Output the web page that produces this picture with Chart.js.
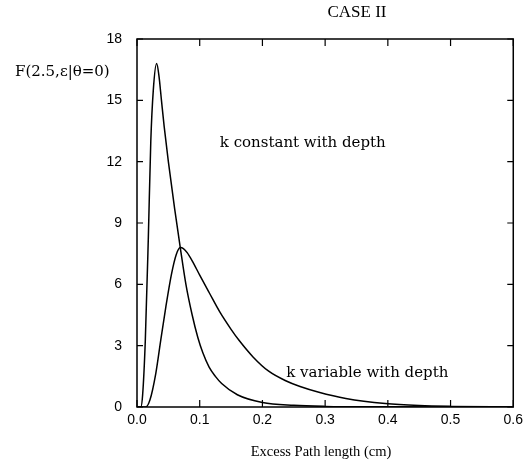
<!DOCTYPE html>
<html>
<head>
<meta charset="utf-8">
<script src="https://cdn.jsdelivr.net/npm/chart.js@4/dist/chart.umd.min.js"></script>
<style>
  html, body { margin: 0; padding: 0; background: #fff; }
  #wrap { width: 528px; height: 461px; }
</style>
</head>
<body>
<div id="wrap"><canvas id="chart" width="528" height="461"></canvas></div>
<script>
// k constant with depth
const xConstant = [0, 0.006, 0.009, 0.0133, 0.018, 0.022, 0.026, 0.0313, 0.035, 0.039, 0.0434, 0.05, 0.06, 0.069, 0.078, 0.088, 0.097, 0.105, 0.115, 0.125, 0.135, 0.16, 0.2, 0.25, 0.3, 0.4, 0.5, 0.6];
const yConstant = [0, 0, 0.6, 3.3, 8.2, 13.0, 15.5, 16.8, 16.2, 15.0, 13.7, 12.0, 9.7, 7.8, 6.0, 4.5, 3.4, 2.65, 1.95, 1.5, 1.15, 0.6, 0.22, 0.08, 0.03, 0.01, 0, 0];

// k variable with depth
const xVariable = [0, 0.014, 0.0206, 0.03, 0.038, 0.046, 0.055, 0.0625, 0.069, 0.074, 0.08, 0.088, 0.1, 0.115, 0.132, 0.15, 0.163, 0.185, 0.21, 0.238, 0.26, 0.29, 0.333, 0.396, 0.45, 0.5, 0.6];
const yVariable = [0, 0, 0.34, 1.65, 3.3, 4.9, 6.5, 7.45, 7.8, 7.75, 7.55, 7.15, 6.45, 5.6, 4.65, 3.8, 3.25, 2.45, 1.75, 1.27, 1.0, 0.72, 0.42, 0.17, 0.07, 0.03, 0];

const xTicks = [0, 0.1, 0.2, 0.3, 0.4, 0.5, 0.6];
const yTicks = [0, 3, 6, 9, 12, 15, 18];

const toPoints = (xs, ys) => xs.map((x, i) => ({ x: x, y: ys[i] }));

const serif = "'DejaVu Serif', serif";

// frame, inward ticks and free text
const decorPlugin = {
  id: "decor",
  afterDraw(chart) {
    const ctx = chart.ctx;
    const a = chart.chartArea;
    const xs = chart.scales.x;
    const ys = chart.scales.y;
    ctx.save();
    ctx.strokeStyle = "#000";
    ctx.lineWidth = 1.5;
    ctx.strokeRect(a.left, a.top, a.right - a.left, a.bottom - a.top);

    ctx.lineWidth = 1.2;
    ctx.beginPath();
    xTicks.forEach((v) => {
      const px = xs.getPixelForValue(v);
      ctx.moveTo(px, a.bottom);
      ctx.lineTo(px, a.bottom - 7);
      ctx.moveTo(px, a.top);
      ctx.lineTo(px, a.top + 7);
    });
    yTicks.forEach((v) => {
      const py = ys.getPixelForValue(v);
      ctx.moveTo(a.left, py);
      ctx.lineTo(a.left + 6, py);
      ctx.moveTo(a.right, py);
      ctx.lineTo(a.right - 6, py);
    });
    ctx.stroke();

    ctx.fillStyle = "#000";
    ctx.textBaseline = "middle";

    ctx.font = "15px " + serif;
    ctx.textAlign = "left";
    ctx.fillText("k constant with depth", xs.getPixelForValue(0.132), ys.getPixelForValue(12.9));
    ctx.fillText("k variable with depth", xs.getPixelForValue(0.238), ys.getPixelForValue(1.66));

    ctx.font = "15px " + serif;
    ctx.fillText("F(2.5,\u03b5|\u03b8=0)", 15, 72);

    ctx.textAlign = "center";
    ctx.font = "14.5px 'Liberation Serif', serif";
    ctx.fillText("Excess Path length (cm)", 321, 452);

    ctx.font = "17px 'Liberation Serif', serif";
    ctx.fillText("CASE II", 357, 13);
    ctx.restore();
  }
};

new Chart(document.getElementById("chart"), {
  type: "line",
  data: {
    datasets: [
      {
        label: "k constant with depth",
        data: toPoints(xConstant, yConstant),
        borderColor: "#000",
        borderWidth: 1.5,
        pointRadius: 0,
        fill: false,
        cubicInterpolationMode: "monotone"
      },
      {
        label: "k variable with depth",
        data: toPoints(xVariable, yVariable),
        borderColor: "#000",
        borderWidth: 1.5,
        pointRadius: 0,
        fill: false,
        cubicInterpolationMode: "monotone"
      }
    ]
  },
  options: {
    responsive: false,
    animation: false,
    layout: { padding: { top: 39, right: 13, left: 0, bottom: 0 } },
    plugins: {
      legend: { display: false },
      tooltip: { enabled: false }
    },
    scales: {
      x: {
        type: "linear",
        min: 0,
        max: 0.6,
        afterFit: (scale) => { scale.height = 54; },
        afterBuildTicks: (scale) => { scale.ticks = xTicks.map((v) => ({ value: v })); },
        grid: { display: false, drawTicks: false },
        border: { display: false },
        ticks: {
          padding: 5,
          color: "#000",
          font: { family: "'Liberation Sans', Arial, sans-serif", size: 14 },
          maxRotation: 0,
          callback: (v) => Number(v).toFixed(1)
        }
      },
      y: {
        type: "linear",
        min: 0,
        max: 18,
        afterFit: (scale) => { scale.width = 137; },
        afterBuildTicks: (scale) => { scale.ticks = yTicks.map((v) => ({ value: v })); },
        grid: { display: false, drawTicks: false },
        border: { display: false },
        ticks: {
          padding: 15,
          color: "#000",
          font: { family: "'Liberation Sans', Arial, sans-serif", size: 14 },
          callback: (v) => String(v)
        }
      }
    }
  },
  plugins: [decorPlugin]
});
</script>
</body>
</html>
